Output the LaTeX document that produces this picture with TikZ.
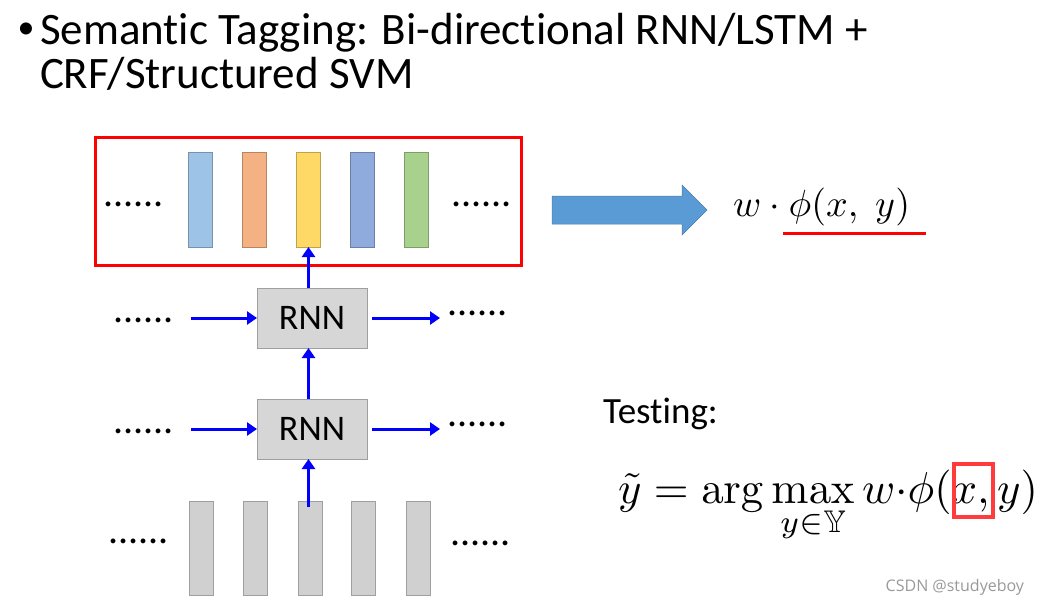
\documentclass[tikz,border=0pt]{standalone}
\usepackage[no-math]{fontspec}
\usepackage{amsmath,amssymb}
\setmainfont[Ligatures=NoCommon]{Carlito}
\newfontfamily\wmfont{Open Sans}
\usetikzlibrary{arrows.meta}
\definecolor{cBlueA}{HTML}{9DC3E6}
\definecolor{cOrange}{HTML}{F4B183}
\definecolor{cYellow}{HTML}{FFD966}
\definecolor{cBlueB}{HTML}{8FAADC}
\definecolor{cGreen}{HTML}{A9D18E}
\definecolor{cGray}{HTML}{D0D0D0}
\definecolor{cRNN}{HTML}{D6D6D6}
\definecolor{cBig}{HTML}{5B9BD5}
\definecolor{cRed}{HTML}{FF0000}
\definecolor{cRedB}{HTML}{FF3B3B}
\begin{document}
\begin{tikzpicture}[x=1pt,y=-1pt,
  every node/.style={inner sep=0pt, outer sep=0pt},
  bar/.style={draw=#1!75!black, fill=#1, line width=0.8pt, minimum width=24pt, minimum height=95pt},
  graybar/.style={draw=gray!75, fill=cGray, line width=0.8pt, minimum width=24pt, minimum height=94pt},
  rnn/.style={draw=gray!75, fill=cRNN, line width=0.8pt, minimum width=110pt, minimum height=60pt, font=\fontsize{36}{36}\selectfont},
  dots/.style={font=\fontsize{40}{40}\selectfont, anchor=base west},
  conn/.style={draw=blue, line width=3pt, -{Triangle[length=10pt,width=13pt]}},
  title/.style={font=\fontsize{45}{45}\selectfont, anchor=base west}]
\useasboundingbox (0,0) rectangle (1044,606);
% title
\node[font=\fontsize{34}{34}\selectfont] (bul) at (26,31) {•};
\node[title] (t1) at (40,44) {Semantic Tagging: Bi-directional RNN/LSTM +};
\node[title] (t2) at (40,88) {CRF/Structured SVM};
% red box and output bars
\node[draw=cRed, line width=3pt, minimum width=426pt, minimum height=128pt] (box) at (308,201) {};
\node[bar=cBlueA] (b1) at (200,199.5) {};
\node[bar=cOrange] (b2) at (254,199.5) {};
\node[bar=cYellow] (b3) at (308.5,199.5) {};
\node[bar=cBlueB] (b4) at (362,199.5) {};
\node[bar=cGreen] (b5) at (416.5,199.5) {};
\node[dots] (dl0) at (103,206) {......};
\node[dots] (dr0) at (451,206) {......};
% RNN layers
\node[rnn] (r1) at (312,318) {RNN};
\node[rnn] (r2) at (312,429) {RNN};
\node[dots] (dl1) at (113,322) {......};
\node[dots] (dr1) at (447,315) {......};
\node[dots] (dl2) at (113,433) {......};
\node[dots] (dr2) at (447,426) {......};
\coordinate (l1) at (191,318);
\coordinate (e1) at (440,318);
\coordinate (l2) at (191,429);
\coordinate (e2) at (440,429);
% input bars
\node[graybar] (g1) at (201,548) {};
\node[graybar] (g2) at (255,548) {};
\node[graybar] (g3) at (310,548) {};
\node[graybar] (g4) at (363.5,548) {};
\node[graybar] (g5) at (418,548) {};
\node[dots] (dl3) at (108,543) {......};
\node[dots] (dr3) at (450,545) {......};
% connectors
\draw[conn] (l1) -- (r1.west);
\draw[conn] (r1.east) ++(5,0) -- (e1);
\draw[conn] (l2) -- (r2.west);
\draw[conn] (r2.east) ++(5,0) -- (e2);
\draw[conn] (r1.north -| b3) -- (b3.south);
\draw[conn] (r2.north -| b3) -- (r1.south -| b3);
\draw[conn] ([yshift=-6pt]g3.north -| b3) -- (r2.south -| b3);
% big arrow
\fill[cBig, draw=cBig!80!black, line width=0.5pt] (552,196) -- (682,196) -- (682,185) -- (707,210) -- (682,235) -- (682,224) -- (552,224) -- cycle;
% score
\node[anchor=base west] (score) at (733,216) {\scalebox{3.8}{$w\cdot\phi(x,\;y)$}};
\draw[cRed, line width=3pt] (783,233) -- (926,233);
% testing
\node[anchor=base west, font=\fontsize{37}{37}\selectfont] (test) at (603,423) {Testing:};
\node[anchor=base west] (eq) at (618,503) {\scalebox{4.47}{$\displaystyle \tilde{y}=\arg\max_{y\in\mathbb{Y}} w{\cdot}\phi(x,y)$}};
\draw[cRedB, line width=4pt] (954,464) rectangle (993,517);
% watermark
\node[anchor=base east, font=\wmfont\fontsize{16}{16}\selectfont, text=gray!80] (wm) at (1024,591) {CSDN @studyeboy};
\end{tikzpicture}
\end{document}
